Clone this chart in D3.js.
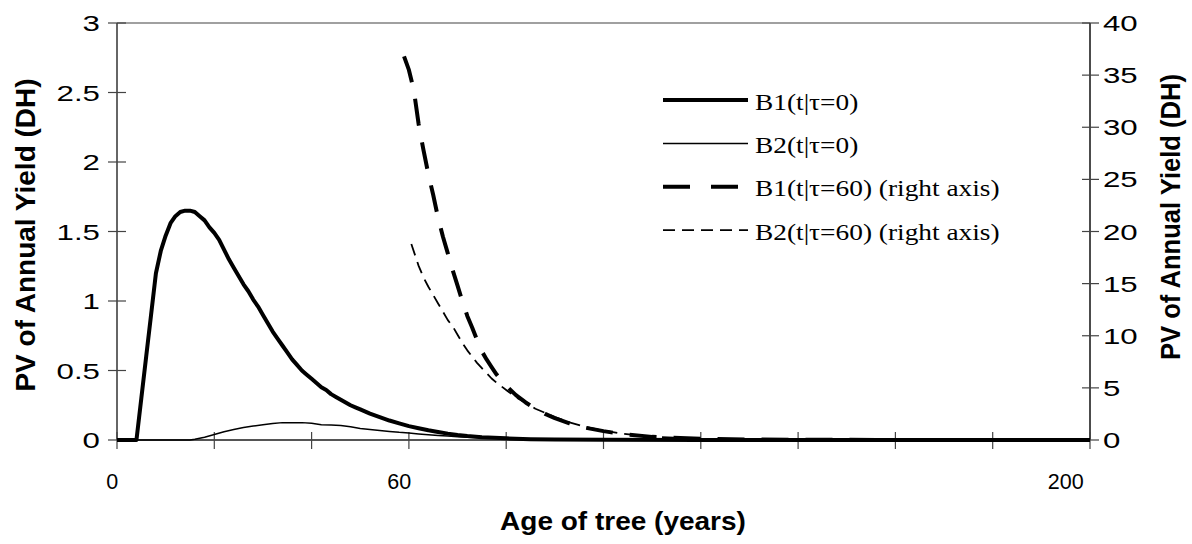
<!DOCTYPE html>
<html>
<head>
<meta charset="utf-8">
<script src="https://cdn.jsdelivr.net/npm/d3@7"></script>
<style>
  body { margin: 0; background: #fff; }
  svg { display: block; }
</style>
</head>
<body>
<svg id="chart" width="1192" height="544"></svg>
<script>
// Present value of annual yield by tree age. Two series on the left axis
// (planted at t=0) and two on the right axis (replanted at tau=60).

const b1Ages = [0, 2, 4, 5, 6, 7, 8, 9, 10, 11, 12, 13, 14, 15, 16, 17, 18, 19, 20, 21, 22, 23, 24, 25, 26, 27, 28, 29, 30,
  31, 32, 33, 34, 35, 36, 37, 38, 39, 40, 41, 42, 43, 44, 45, 46, 47, 48, 49, 50, 52, 54, 56, 58, 60, 62, 64, 66, 68, 70,
  72, 75, 80, 85, 90, 100, 120, 150, 200];
const b1Vals = [0, 0, 0, 0.3, 0.6, 0.9, 1.2, 1.36, 1.47, 1.56, 1.61, 1.64, 1.65, 1.65, 1.64, 1.61, 1.58, 1.53, 1.49, 1.44, 1.37, 1.30, 1.24, 1.18, 1.12, 1.07, 1.01, 0.96, 0.90,
  0.84, 0.78, 0.73, 0.68, 0.63, 0.58, 0.54, 0.50, 0.47, 0.44, 0.41, 0.38, 0.36, 0.33, 0.31, 0.29, 0.27, 0.25, 0.235, 0.22, 0.19, 0.165, 0.14, 0.12, 0.10, 0.085, 0.07, 0.058, 0.046, 0.036,
  0.028, 0.02, 0.012, 0.006, 0.003, 0.001, 0, 0, 0];

const b2Ages = [0, 15, 16, 18, 20, 22, 24, 26, 28, 30, 32, 34, 36, 38, 40, 42, 44, 46, 48, 50, 52, 54, 56, 58, 60, 62, 64, 66, 68, 70,
  72, 75, 78, 82, 86, 90, 100, 110, 150, 200];
const b2Vals = [0, 0, 0.005, 0.02, 0.04, 0.06, 0.075, 0.09, 0.10, 0.11, 0.118, 0.125, 0.125, 0.125, 0.12, 0.11, 0.108, 0.105, 0.095, 0.082, 0.075, 0.068, 0.062, 0.055, 0.05, 0.044, 0.038, 0.033, 0.028, 0.024,
  0.02, 0.016, 0.012, 0.008, 0.005, 0.003, 0.001, 0, 0, 0];

const b1LateAges = [59, 60, 61, 62, 63, 64, 65, 66, 67, 68, 69, 70, 71, 72, 73, 74, 75, 76, 77, 78, 79, 80, 82, 84, 86, 88, 90,
  93, 96, 100, 104, 110, 120, 130, 140, 160, 200];
const b1LateVals = [36.8, 35.5, 33.6, 30.3, 27.8, 25.5, 23.5, 21.3, 19.5, 17.9, 16.3, 14.8, 13.3, 11.9, 10.8, 9.6, 8.5, 7.7, 7.0, 6.3, 5.7, 5.2, 4.3, 3.6, 3.0, 2.5, 2.1,
  1.6, 1.2, 0.85, 0.55, 0.3, 0.12, 0.05, 0.02, 0.005, 0];

const b2LateAges = [60.5, 62, 63, 64, 65, 66, 67, 68, 69, 70, 71, 72, 73, 74, 75, 76, 77, 78, 80, 82, 84, 86, 88, 90,
  93, 96, 100, 104, 110, 120, 130, 140, 160, 200];
const b2LateVals = [18.8, 16.7, 15.6, 14.7, 13.9, 13.1, 12.3, 11.5, 10.9, 10.1, 9.3, 8.6, 8.0, 7.4, 6.9, 6.4, 5.9, 5.5, 4.8, 4.1, 3.6, 3.0, 2.6, 2.2,
  1.7, 1.3, 0.9, 0.6, 0.3, 0.12, 0.05, 0.02, 0.005, 0];

const xTicks = [0, 20, 40, 60, 80, 100, 120, 140, 160, 180, 200];
// labelled ages and where each label is centred (in years)
const xLabels = ["0", "60", "200"];
const xLabelAt = [-1, 58, 195];
const leftTicks = [0, 0.5, 1, 1.5, 2, 2.5, 3];
const rightTicks = [0, 5, 10, 15, 20, 25, 30, 35, 40];

const legendNames = ["B1(t|\u03c4=0)", "B2(t|\u03c4=0)", "B1(t|\u03c4=60) (right axis)", "B2(t|\u03c4=60) (right axis)"];

const M = { left: 117, right: 1090, top: 23, bottom: 440 };
const svg = d3.select("#chart");

const x = d3.scaleLinear().domain([0, 200]).range([M.left, M.right]);
const yL = d3.scaleLinear().domain([0, 3]).range([M.bottom, M.top]);
const yR = d3.scaleLinear().domain([0, 40]).range([M.bottom, M.top]);

const sans = "'Liberation Sans', Arial, sans-serif";
const serif = "'Liberation Serif', 'Times New Roman', serif";
const TICK_STRETCH = 1.42; // the source image is stretched sideways

// frame
svg.append("line").attr("x1", M.left).attr("x2", M.right).attr("y1", M.top).attr("y2", M.top)
  .attr("stroke", "#808080").attr("stroke-width", 1.5);
svg.append("line").attr("x1", M.left).attr("x2", M.left).attr("y1", M.top).attr("y2", M.bottom)
  .attr("stroke", "#333").attr("stroke-width", 1.5);
svg.append("line").attr("x1", M.right).attr("x2", M.right).attr("y1", M.top).attr("y2", M.bottom)
  .attr("stroke", "#111").attr("stroke-width", 1.5);
svg.append("line").attr("x1", M.left).attr("x2", M.right).attr("y1", M.bottom).attr("y2", M.bottom)
  .attr("stroke", "#555").attr("stroke-width", 2);

// crossing tick marks
svg.append("g").selectAll("line").data(leftTicks).join("line")
  .attr("x1", M.left - 9).attr("x2", M.left + 9)
  .attr("y1", (d) => yL(d)).attr("y2", (d) => yL(d))
  .attr("stroke", "#444").attr("stroke-width", 1.2);
svg.append("g").selectAll("line").data(rightTicks).join("line")
  .attr("x1", M.right - 8).attr("x2", M.right + 9)
  .attr("y1", (d) => yR(d)).attr("y2", (d) => yR(d))
  .attr("stroke", "#444").attr("stroke-width", 1.2);
svg.append("g").selectAll("line").data(xTicks).join("line")
  .attr("x1", (d) => x(d)).attr("x2", (d) => x(d))
  .attr("y1", M.bottom - 8).attr("y2", M.bottom + 9)
  .attr("stroke", "#444").attr("stroke-width", 1.2);

// tick labels
svg.append("g").selectAll("text").data(leftTicks).join("text")
  .attr("transform", (d) => `translate(${M.left - 17},${yL(d) + 8}) scale(${TICK_STRETCH},1)`)
  .attr("text-anchor", "end").attr("font-family", sans).attr("font-size", 22)
  .text((d) => d);
svg.append("g").selectAll("text").data(rightTicks).join("text")
  .attr("transform", (d) => `translate(${M.right + 13},${yR(d) + 8}) scale(${TICK_STRETCH},1)`)
  .attr("font-family", sans).attr("font-size", 22)
  .text((d) => d);
svg.append("g").selectAll("text").data(xLabels).join("text")
  .attr("x", (d, i) => x(xLabelAt[i])).attr("y", 489)
  .attr("text-anchor", "middle").attr("font-family", sans).attr("font-size", 21.5)
  .text((d) => d);

// axis titles
svg.append("text").attr("transform", "translate(623,530) scale(1.12,1)")
  .attr("text-anchor", "middle").attr("font-family", sans).attr("font-weight", "bold").attr("font-size", 25)
  .text("Age of tree (years)");
svg.append("text").attr("transform", "translate(35,235) rotate(-90)")
  .attr("text-anchor", "middle").attr("font-family", sans).attr("font-weight", "bold").attr("font-size", 28)
  .text("PV of Annual Yield (DH)");
svg.append("text").attr("transform", "translate(1180,217) scale(1.08,1) rotate(-90)")
  .attr("text-anchor", "middle").attr("font-family", sans).attr("font-weight", "bold").attr("font-size", 25.6)
  .text("PV of Annual Yield (DH)");

// series
const styles = [
  { w: 4, dash: null },
  { w: 1.5, dash: null },
  { w: 4, dash: "27,17" },
  { w: 1.8, dash: "12,7" },
];
const series = [
  { ages: b1Ages, vals: b1Vals, y: yL },
  { ages: b2Ages, vals: b2Vals, y: yL },
  { ages: b1LateAges, vals: b1LateVals, y: yR },
  { ages: b2LateAges, vals: b2LateVals, y: yR },
];
series.forEach((s, i) => {
  const pts = s.ages.map((a, k) => [a, s.vals[k]]);
  const line = d3.line().x((d) => x(d[0])).y((d) => s.y(d[1]));
  svg.append("path").attr("d", line(pts))
    .attr("fill", "none").attr("stroke", "#000")
    .attr("stroke-width", styles[i].w)
    .attr("stroke-dasharray", styles[i].dash)
    .attr("stroke-linejoin", "round");
});

// legend
const leg = svg.append("g").attr("transform", "translate(663,100)");
legendNames.forEach((name, i) => {
  const gy = i * 43.4;
  leg.append("line").attr("x1", 0).attr("x2", 85).attr("y1", gy).attr("y2", gy)
    .attr("stroke", "#000").attr("stroke-width", styles[i].w)
    .attr("stroke-dasharray", i === 2 ? "27,21" : styles[i].dash);
  leg.append("text").attr("transform", `translate(92,${gy + 9.5}) scale(1.19,1)`)
    .attr("font-family", serif).attr("font-size", 23)
    .text(name);
});
</script>
</body>
</html>
